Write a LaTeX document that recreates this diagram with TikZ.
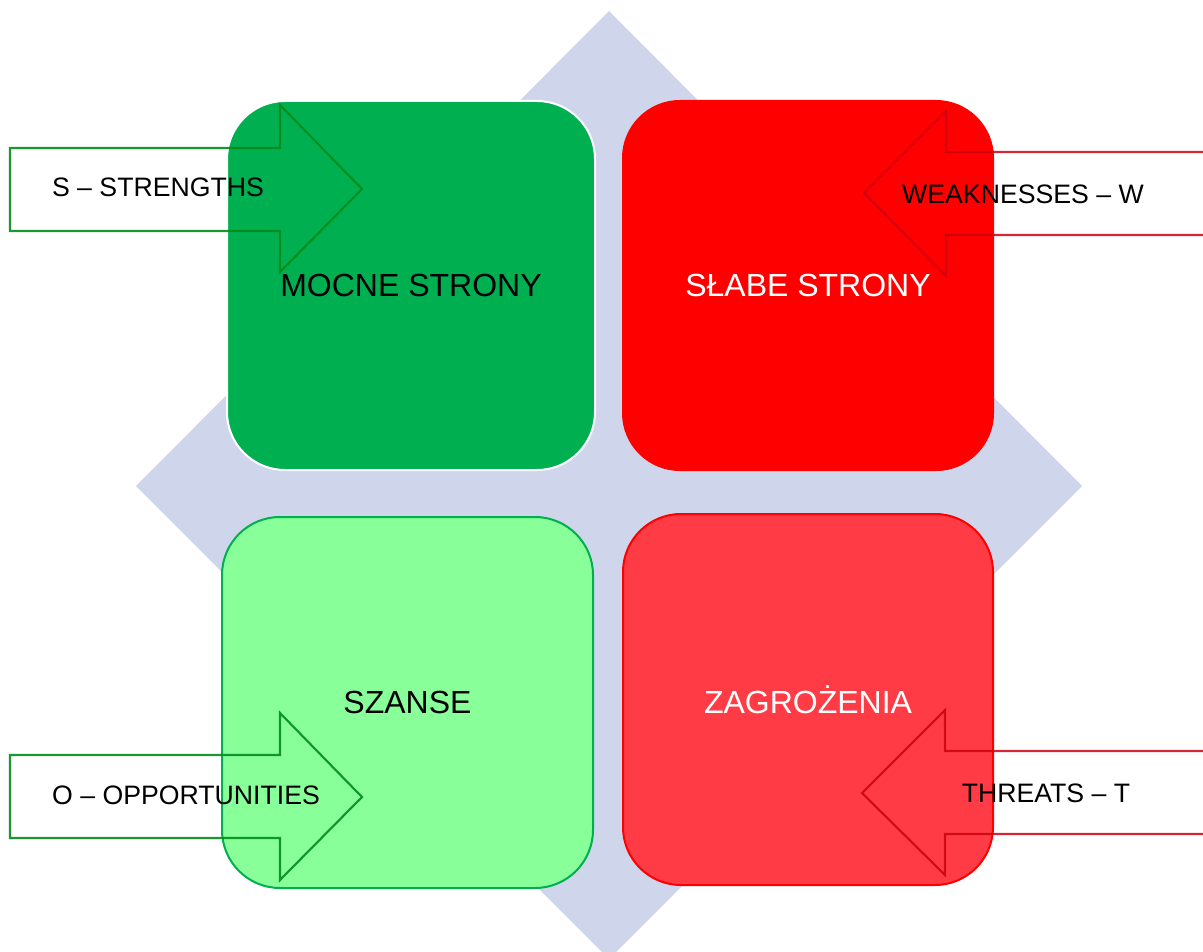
\documentclass[tikz,border=0pt]{standalone}
\usepackage{fontspec}
\setmainfont{Liberation Sans}
\definecolor{diam}{HTML}{CFD5EA}
\definecolor{sgreen}{HTML}{00B050}
\definecolor{lgreen}{HTML}{88FF99}
\definecolor{lred}{HTML}{FF3C46}
\definecolor{agreen}{HTML}{008C1A}
\definecolor{ared}{HTML}{CC0010}
\tikzset{
  quad/.style={rounded corners=58*0.75pt, inner sep=0pt, font=\fontsize{24}{28}\selectfont},
  arrowshape/.style={line width=1.6pt, line join=miter},
  alabel/.style={font=\fontsize{20}{24}\selectfont, text=black, inner sep=0pt}
}
\begin{document}
\begin{tikzpicture}[x=0.75pt, y=-0.75pt]
\useasboundingbox (0,0) rectangle (1203,952);
\clip (0,0) rectangle (1203,952);
% background diamond
\fill[diam] (609,11) -- (1082,486) -- (609,959) -- (136,486) -- cycle;
% quadrants
\node[quad, fill=sgreen, draw=white, line width=1.5pt, minimum width=368*0.75pt, minimum height=369*0.75pt] (s) at (411,285.5) {MOCNE STRONY};
\node[quad, fill=red, minimum width=372*0.75pt, minimum height=371*0.75pt, text=white] (w) at (808,285.5) {SŁABE STRONY};
\node[quad, fill=lgreen, draw=sgreen, line width=1.5pt, minimum width=371*0.75pt, minimum height=371*0.75pt] (o) at (407.5,702.5) {SZANSE};
\node[quad, fill=lred, draw=red, line width=1.5pt, minimum width=370*0.75pt, minimum height=371*0.75pt, text=white] (t) at (808,699.5) {ZAGROŻENIA};
% arrows
\draw[arrowshape, draw=agreen, draw opacity=0.9] (10,148) -- (280,148) -- (280,105) -- (362,189) -- (280,272) -- (280,231) -- (10,231) -- cycle;
\draw[arrowshape, draw=agreen, draw opacity=0.9] (10,755) -- (280,755) -- (280,713) -- (362,797) -- (280,880) -- (280,838) -- (10,838) -- cycle;
\draw[arrowshape, draw=ared, draw opacity=0.85] (1230,152) -- (946,152) -- (946,111) -- (864,193) -- (946,276) -- (946,235) -- (1230,235);
\draw[arrowshape, draw=ared, draw opacity=0.85] (1230,751) -- (945,751) -- (945,710) -- (862,793) -- (945,875) -- (945,834) -- (1230,834);
% labels
\node[alabel] (sl) at (158,187.5) {S – STRENGTHS};
\node[alabel] (wl) at (1023,194.5) {WEAKNESSES – W};
\node[alabel] (ol) at (186,795.5) {O – OPPORTUNITIES};
\node[alabel] (tl) at (1046,793.5) {THREATS – T};
\end{tikzpicture}
\end{document}
